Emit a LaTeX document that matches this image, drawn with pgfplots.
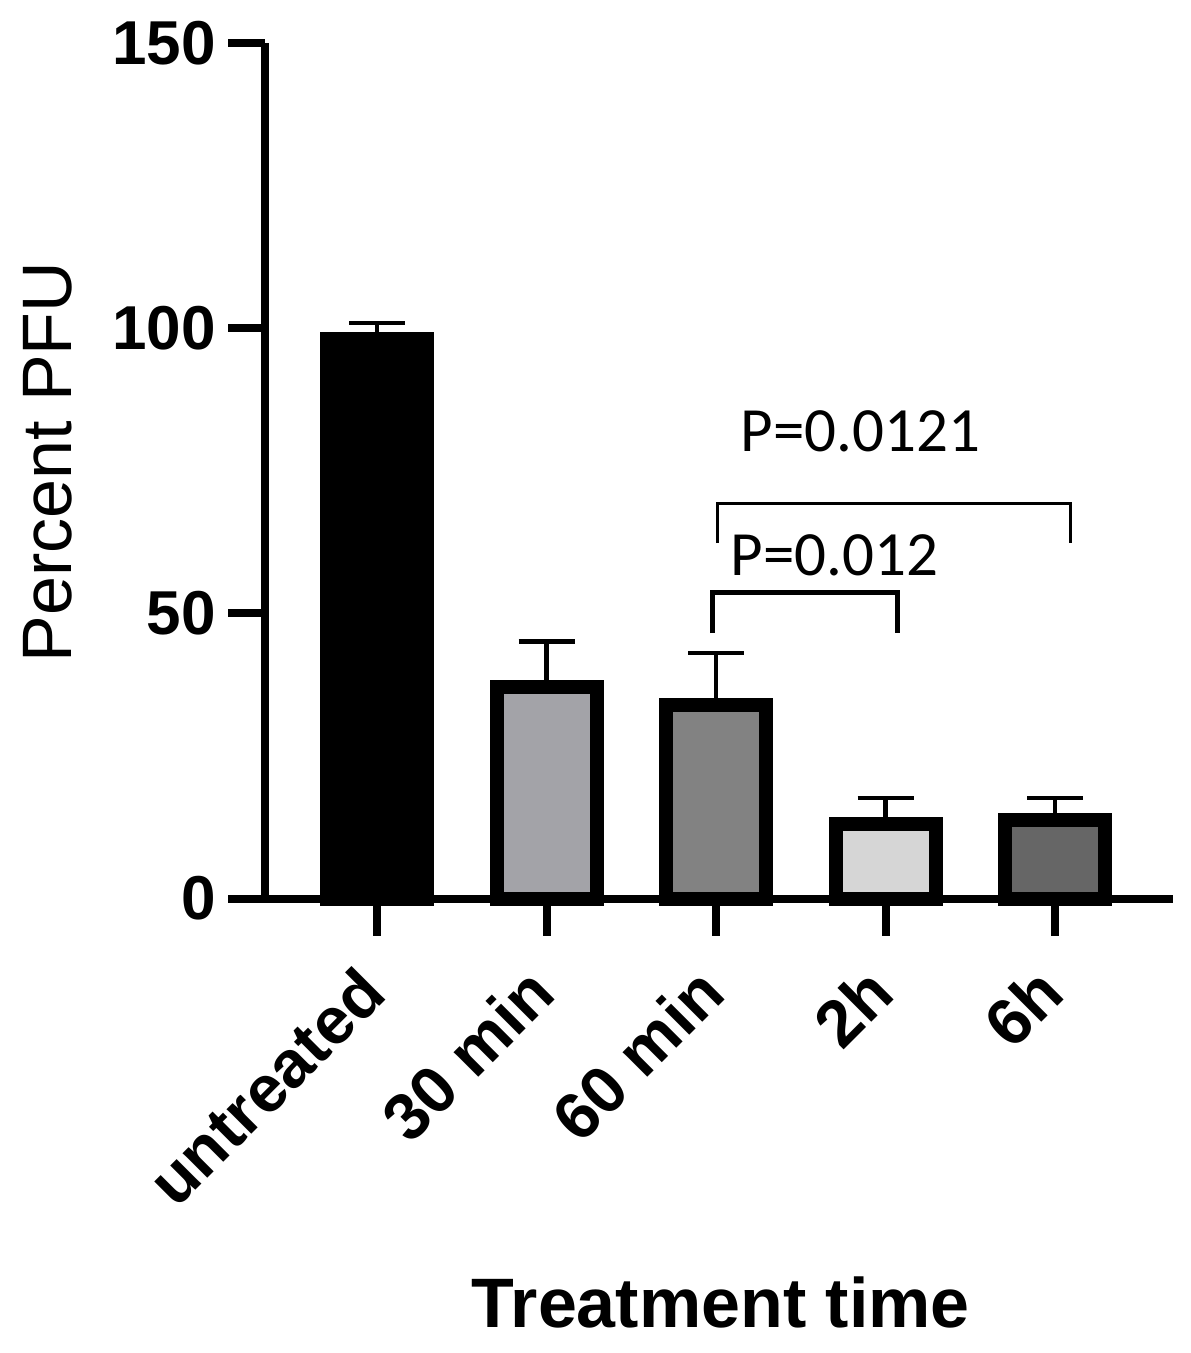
\documentclass[border=0pt]{standalone}
\usepackage{fontspec}
\setmainfont{Liberation Sans}
\newfontfamily\pfont{Carlito}
\usepackage{pgfplots}
\pgfplotsset{compat=1.18}

\definecolor{gA}{HTML}{A3A3A8}
\definecolor{gB}{HTML}{828282}
\definecolor{gC}{HTML}{D6D6D6}
\definecolor{gD}{HTML}{666666}

\begin{document}
\begin{tikzpicture}
\begin{axis}[
    at={(132.5pt,-449.25pt)}, anchor=south west,
    scale only axis,
    width=454pt, height=427.9pt,
    xmin=-0.661, xmax=4.696,
    ymin=0, ymax=150,
    axis x line=bottom, axis y line=left,
    axis line style={-, line width=4pt},
    tick align=outside,
    major tick length=18.5pt,
    tick style={line width=4pt, black},
    xtick={0,1,2,3,4},
    xticklabels={untreated, 30 min, 60 min, 2h, 6h},
    ytick={0,50,100,150},
    /pgf/number format/assume math mode=true,
    yticklabel style={font=\fontsize{31}{31}\selectfont\bfseries, anchor=east, inner sep=0pt, xshift=-6pt},
    % shifts are in the rotated frame
    xticklabel style={font=\fontsize{33}{33}\selectfont\bfseries, rotate=45, anchor=north east, inner sep=0pt, xshift=-17.4pt, yshift=-1.9pt},
    xlabel={Treatment time},
    ylabel={Percent PFU},
    xlabel style={font=\fontsize{35}{35}\selectfont\bfseries, at={(axis description cs:0.502,-0.4715)}, anchor=center, inner sep=0pt},
    ylabel style={font=\fontsize{35}{35}\selectfont, at={(axis description cs:-0.2395,0.51)}, anchor=center, inner sep=0pt},
    ybar, bar width=50pt, bar shift=0pt,
    clip=false,
    error bars/y dir=plus, error bars/y explicit,
    error bars/error bar style={line width=2.3pt, black},
    error bars/error mark options={rotate=90, mark size=14pt, line width=2.3pt, black},
]
% untreated
\addplot[fill=black, draw=black, line width=7pt] coordinates {(0,98.0) +- (0,2.9)};
% 30 min
\addplot[fill=gA, draw=black, line width=7pt] coordinates {(1,37.0) +- (0,8.0)};
% 60 min
\addplot[fill=gB, draw=black, line width=7pt] coordinates {(2,34.0) +- (0,9.0)};
% 2h
\addplot[fill=gC, draw=black, line width=7pt] coordinates {(3,13.0) +- (0,4.6)};
% 6h
\addplot[fill=gD, draw=black, line width=7pt] coordinates {(4,13.8) +- (0,3.8)};

% significance brackets
\draw[line width=1.5pt] (axis cs:2.006,62.3) -- (axis cs:2.006,69.3) -- (axis cs:4.094,69.3) -- (axis cs:4.094,62.3);
\draw[line width=2.5pt] (axis cs:1.98,46.5) -- (axis cs:1.98,53.7) -- (axis cs:3.07,53.7) -- (axis cs:3.07,46.5);
\node[anchor=base west, inner sep=0pt, font=\pfont\fontsize{31.5}{31.5}\selectfont] at (axis cs:2.142,78.3) {P=0.0121};
\node[anchor=base west, inner sep=0pt, font=\pfont\fontsize{31.5}{31.5}\selectfont] at (axis cs:2.083,56.7) {P=0.012};
\end{axis}
\pgfresetboundingbox
\path[use as bounding box] (0,0) rectangle (595pt,-676.5pt);
\end{tikzpicture}
\end{document}
